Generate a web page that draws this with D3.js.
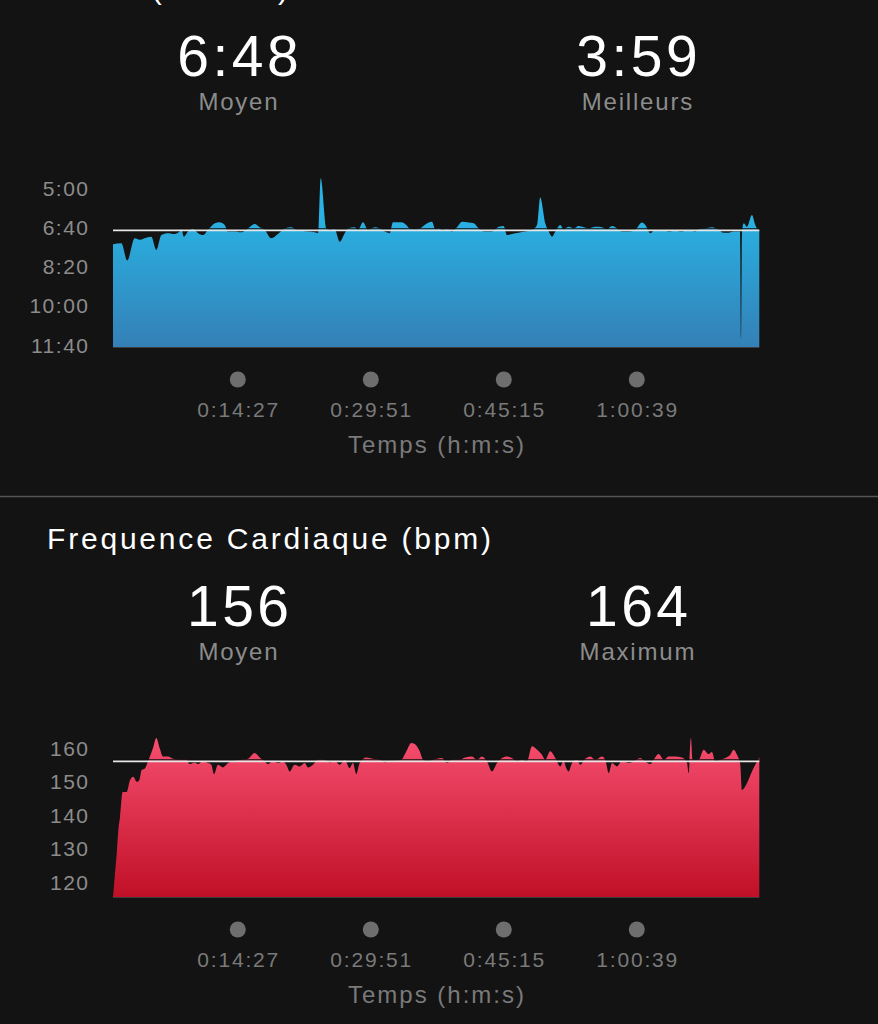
<!DOCTYPE html>
<html><head><meta charset="utf-8">
<script src="https://cdn.jsdelivr.net/npm/d3@7"></script>
<style>
html,body{margin:0;padding:0;background:#131313;}
svg{display:block;}
text{font-family:"Liberation Sans", Arial, Helvetica, sans-serif;}
</style></head>
<body>
<svg id="c" width="878" height="1024"></svg>
<script>
// ---------------- DATA ----------------
const paceTitle = "Allure (min/km)";
const hrTitle = "Frequence Cardiaque (bpm)";
const paceStats = [["6:48", "Moyen"], ["3:59", "Meilleurs"]];
const hrStats = [["156", "Moyen"], ["164", "Maximum"]];
const paceAverage = 408;   // 6:48 in seconds / km
const hrAverage = 156;
const totalSeconds = 4490;
const xTickSeconds = [867, 1791, 2715, 3639];
const xTickLabels = ["0:14:27", "0:29:51", "0:45:15", "1:00:39"];
const xAxisTitle = "Temps (h:m:s)";
const paceTicks = [300, 400, 500, 600, 700];
const paceTickLabels = ["5:00", "6:40", "8:20", "10:00", "11:40"];
const hrTicks = [160, 150, 140, 130, 120];
const hrTickLabels = ["160", "150", "140", "130", "120"];
// [elapsed seconds, pace seconds per km]
const paceSeries = [
[0,443],[58,441],[99,485],[151,428],[186,432],[220,428],[266,424],[301,458],[336,420],[382,415],[429,417],[463,411],[475,405],[493,424],[521,411],[556,404],[591,415],[625,420],[660,407],[707,390],[741,387],[776,394],[799,411],[845,411],[891,413],[938,403],[984,392],[1019,400],[1054,407],[1100,428],[1146,417],[1193,403],[1239,400],[1273,407],[1308,409],[1355,411],[1401,413],[1424,415],[1443,275],[1482,403],[1505,407],[1540,405],[1575,437],[1610,415],[1633,403],[1679,400],[1702,407],[1737,387],[1772,407],[1818,400],[1853,403],[1888,411],[1922,415],[1945,387],[2003,387],[2038,394],[2061,403],[2096,405],[2131,403],[2165,394],[2216,386],[2239,405],[2263,403],[2286,407],[2320,405],[2355,411],[2390,400],[2425,386],[2471,388],[2506,390],[2541,403],[2586,411],[2633,411],[2680,399],[2714,397],[2737,420],[2772,417],[2818,414],[2864,411],[2911,407],[2946,394],[2968,324],[3003,390],[3027,411],[3050,424],[3073,411],[3107,394],[3131,405],[3166,399],[3201,403],[3235,397],[3270,400],[3305,403],[3351,399],[3397,400],[3432,405],[3467,397],[3501,403],[3536,411],[3583,411],[3628,407],[3675,388],[3698,394],[3733,415],[3767,407],[3814,407],[3860,411],[3906,409],[3953,411],[3999,407],[4045,411],[4069,405],[4115,403],[4161,400],[4208,407],[4243,414],[4277,414],[4312,411],[4347,411],[4356,411],[4363,682],[4370,411],[4382,390],[4404,399],[4439,369],[4462,394],[4486,407],[4490,407]
];
// [elapsed seconds, heart rate bpm]
const hrSeries = [
[0,115.5],[8,119.5],[14,122.6],[26,128.5],[37,135.5],[49,139.5],[67,146.9],[95,146.9],[118,150.4],[141,151.4],[165,149.9],[183,150.4],[199,153.4],[222,153.9],[243,156],[278,160],[301,163],[324,160],[347,157.5],[382,157.5],[417,156.8],[463,156.5],[509,156.5],[533,155.2],[568,155.7],[591,155.2],[625,156.2],[660,155.5],[683,155],[702,152.2],[729,155],[764,154.2],[799,155.5],[845,156.2],[891,156.5],[938,156.8],[984,158.5],[1019,157.2],[1054,156],[1077,155.2],[1112,156.2],[1146,155.5],[1181,156],[1204,155],[1228,153],[1262,155],[1297,154.5],[1332,155.5],[1355,154.2],[1389,155],[1424,156.5],[1471,156.5],[1505,155.7],[1540,156.2],[1575,155],[1610,156.5],[1644,154],[1667,155.5],[1690,152.2],[1714,155.5],[1760,157.2],[1806,156.8],[1853,156.5],[1888,155.7],[1922,156.2],[1957,156.2],[2003,156.5],[2038,159],[2072,161.5],[2096,161.2],[2131,159],[2154,156.5],[2188,156],[2223,156.5],[2251,156.8],[2286,157],[2320,155.5],[2355,156.5],[2402,156.5],[2447,157.2],[2494,157.5],[2529,156.5],[2563,157.5],[2598,156],[2633,153],[2668,155.5],[2702,157],[2737,157.5],[2772,157],[2807,156],[2841,156.5],[2876,156],[2911,160.5],[2946,159.5],[2980,158],[3003,156.5],[3038,159],[3073,157],[3107,154.5],[3131,156.2],[3147,154.2],[3166,153],[3189,155.5],[3223,156.5],[3246,155],[3281,156.8],[3316,157.5],[3351,156.5],[3397,157.5],[3420,156.5],[3444,152.5],[3467,155.5],[3501,154.5],[3536,156.2],[3583,155.5],[3617,156],[3663,157],[3698,156],[3733,155.2],[3756,156.5],[3791,158.2],[3826,156.5],[3860,157.5],[3906,157.5],[3953,157.2],[3988,155.5],[3999,152.5],[4015,163],[4027,156.5],[4069,156.5],[4104,159.5],[4138,158.2],[4161,158.8],[4184,156],[4219,156.5],[4254,157],[4288,158],[4312,159.5],[4335,158],[4358,155],[4370,147.5],[4404,149.5],[4439,153],[4474,156],[4490,157.2]
];

// ---------------- DRAW ----------------
const svg = d3.select("#c");
svg.append("rect").attr("width", 878).attr("height", 1024).attr("fill", "#131313");
const defs = svg.append("defs");

const x = d3.scaleLinear().domain([0, totalSeconds]).range([113, 759.3]);

function grad(id, y1, y2, c1, c2) {
  const g = defs.append("linearGradient").attr("id", id)
    .attr("gradientUnits", "userSpaceOnUse")
    .attr("x1", 0).attr("x2", 0).attr("y1", y1).attr("y2", y2);
  g.append("stop").attr("offset", "0%").attr("stop-color", c1);
  g.append("stop").attr("offset", "100%").attr("stop-color", c2);
}

// text helper: letter-spacing with anchor compensation for trailing space
function txt(g, xPos, yPos, s, size, fill, ls, anchor) {
  let xx = xPos;
  if (anchor === "middle") xx += ls / 2;
  if (anchor === "end") xx += ls;
  return g.append("text").attr("x", xx).attr("y", yPos)
    .attr("text-anchor", anchor || "start").attr("fill", fill)
    .attr("font-size", size).attr("letter-spacing", ls).text(s);
}

function drawChart(cfg) {
  const g = svg.append("g");
  const dy = cfg.dy;
  txt(g, 47, cfg.titleY, cfg.title, 30, "#ffffff", 2.8, "start");
  const statX = [238, 637];
  cfg.stats.forEach((s, i) => {
    txt(g, statX[i], 76 + dy, s[0], 57, "#ffffff", 3.5, "middle");
    txt(g, statX[i], 110 + dy, s[1], 24, "#8c8c8c", 1.8, "middle");
  });
  const y = d3.scaleLinear().domain(cfg.yDomain).range(cfg.yRange);
  const bottom = cfg.bottom;
  grad(cfg.id, cfg.gradTop, bottom, cfg.c1, cfg.c2);
  const area = d3.area()
    .x(d => x(d[0])).y0(bottom).y1(d => y(d[1]))
    .curve(d3.curveMonotoneX);
  g.append("path").datum(cfg.series).attr("d", area)
    .attr("fill", `url(#${cfg.id})`);
  g.append("line").attr("x1", x(0)).attr("x2", x(totalSeconds))
    .attr("y1", bottom + 0.5).attr("y2", bottom + 0.5)
    .attr("stroke", "#3c3c3c").attr("stroke-width", 1);
  const ay = y(cfg.avg);
  g.append("line").attr("x1", x(0)).attr("x2", x(totalSeconds))
    .attr("y1", ay - 1.6).attr("y2", ay - 1.6)
    .attr("stroke", "#101010").attr("stroke-width", 1.2);
  g.append("line").attr("x1", x(0)).attr("x2", x(totalSeconds))
    .attr("y1", ay).attr("y2", ay)
    .attr("stroke", "#e6e6e6").attr("stroke-width", 1.6);
  cfg.ticks.forEach((t, i) => {
    txt(g, 88, y(t), cfg.tickLabels[i], 21, "#8c8c8c", 1.5, "end")
      .attr("dy", "0.36em");
  });
  xTickSeconds.forEach((t, i) => {
    g.append("circle").attr("cx", x(t)).attr("cy", 379.5 + dy).attr("r", 8)
      .attr("fill", "#6e6e6e");
    txt(g, x(t), 417 + dy, xTickLabels[i], 21, "#7a7a7a", 1.8, "middle");
  });
  txt(g, 436, 453 + dy, xAxisTitle, 24, "#7a7a7a", 2, "middle");
}

drawChart({
  id: "paceGrad", dy: 0, title: paceTitle, titleY: -1, stats: paceStats,
  yDomain: [300, 700], yRange: [188, 345], bottom: 347, gradTop: 215,
  c1: "#29b2e3", c2: "#3480b6", avg: paceAverage,
  ticks: paceTicks, tickLabels: paceTickLabels, series: paceSeries
});

svg.append("line").attr("x1", 0).attr("x2", 878).attr("y1", 496.5).attr("y2", 496.5)
  .attr("stroke", "#555555").attr("stroke-width", 1.5);

drawChart({
  id: "hrGrad", dy: 550, title: hrTitle, titleY: 549, stats: hrStats,
  yDomain: [120, 160], yRange: [882, 748], bottom: 897, gradTop: 745,
  c1: "#f44b6c", c2: "#c01027", avg: hrAverage,
  ticks: hrTicks, tickLabels: hrTickLabels, series: hrSeries
});
</script>
</body></html>
